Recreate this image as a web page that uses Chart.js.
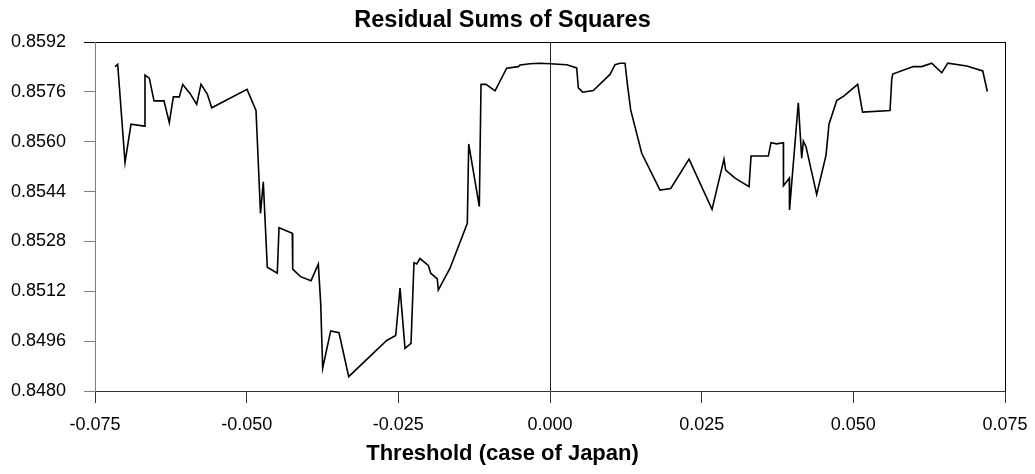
<!DOCTYPE html>
<html>
<head>
<meta charset="utf-8">
<script src="https://cdn.jsdelivr.net/npm/chart.js@4/dist/chart.umd.min.js"></script>
<style>
  html, body { margin: 0; padding: 0; background: #fff; }
</style>
</head>
<body>
<canvas id="rss" width="1035" height="474"></canvas>
<script>
// threshold values (x) and residual sums of squares (y)
var thresholds = [
  -0.0717, -0.07126, -0.07005, -0.06907, -0.06687, -0.06676, -0.06605, -0.06527, -0.06363, -0.06275,
  -0.06209, -0.0611, -0.06054, -0.05934, -0.05824, -0.05753, -0.05649, -0.05576, -0.04994, -0.04846,
  -0.04772, -0.04726, -0.0466, -0.04495, -0.04467, -0.04248, -0.04241, -0.04113, -0.03939, -0.03819,
  -0.0378, -0.03747, -0.03615, -0.03478, -0.03318, -0.02692, -0.02543, -0.02472, -0.0239, -0.02291,
  -0.02242, -0.02197, -0.02143, -0.02006, -0.01966, -0.01858, -0.01841, -0.01648, -0.01363, -0.0134,
  -0.01165, -0.01137, -0.01055, -0.00906, -0.00714, -0.00522, -0.00494, -0.0033, -0.00165, 0.0,
  0.00276, 0.0044, 0.00467, 0.00539, 0.00714, 0.00989, 0.01072, 0.01154, 0.01237, 0.01274,
  0.0133, 0.01512, 0.01813, 0.0199, 0.02292, 0.02671, 0.02868, 0.02896, 0.0305, 0.03281,
  0.03314, 0.03599, 0.03643, 0.03737, 0.03846, 0.03849, 0.03945, 0.03948, 0.04093, 0.04149,
  0.04176, 0.0422, 0.04396, 0.0455, 0.04599, 0.04726, 0.04847, 0.05072, 0.05152, 0.05605,
  0.05633, 0.05649, 0.05989, 0.06127, 0.06292, 0.06457, 0.06556, 0.06869, 0.07133, 0.07209
];
var rss = [
  0.85841, 0.85848, 0.85533, 0.85656, 0.8565, 0.85814, 0.85804, 0.85731, 0.85731, 0.85661,
  0.85744, 0.85744, 0.85784, 0.85755, 0.8572, 0.85784, 0.85753, 0.85709, 0.85768, 0.857,
  0.8537, 0.85471, 0.85197, 0.85178, 0.85324, 0.85306, 0.85191, 0.85167, 0.85154, 0.85207,
  0.85082, 0.84873, 0.84993, 0.84987, 0.84846, 0.84962, 0.84978, 0.8513, 0.84937, 0.84953,
  0.85212, 0.85208, 0.85225, 0.85203, 0.85178, 0.8516, 0.85124, 0.85194, 0.85338, 0.85593,
  0.85392, 0.85784, 0.85784, 0.85763, 0.85836, 0.85841, 0.85846, 0.8585, 0.85852, 0.8585,
  0.85847, 0.85837, 0.85773, 0.85759, 0.85764, 0.85816, 0.85847, 0.85852, 0.85852, 0.85787,
  0.85702, 0.85563, 0.85445, 0.8545, 0.85544, 0.85383, 0.85544, 0.85509, 0.85483, 0.85456,
  0.85554, 0.85554, 0.85597, 0.85593, 0.85597, 0.85459, 0.85483, 0.85381, 0.85725, 0.85547,
  0.85602, 0.85584, 0.85431, 0.85557, 0.85656, 0.85732, 0.85747, 0.85784, 0.85695, 0.857,
  0.858, 0.85817, 0.85841, 0.85841, 0.85852, 0.85821, 0.85852, 0.85843, 0.85827, 0.85761
];

var xMin = -0.075, xMax = 0.075, xStep = 0.025;
var yMin = 0.8480, yMax = 0.8592, yStep = 0.0016;

var points = thresholds.map(function (t, i) { return { x: t, y: rss[i] }; });

var font = "'Liberation Sans', Arial, sans-serif";

function near(a, b) { return Math.abs(a - b) < 1e-9; }

new Chart(document.getElementById('rss').getContext('2d'), {
  type: 'scatter',
  data: {
    datasets: [{
      data: points,
      showLine: true,
      borderColor: '#000',
      borderWidth: 1.6,
      pointRadius: 0,
      tension: 0,
      fill: false
    }]
  },
  options: {
    responsive: false,
    animation: false,
    devicePixelRatio: 1,
    layout: { padding: { left: 0, right: 30, top: 0, bottom: 0 } },
    plugins: {
      legend: { display: false },
      tooltip: { enabled: false },
      title: {
        display: true,
        text: 'Residual Sums of Squares',
        color: '#000',
        font: { family: font, size: 23.5, weight: 'bold' },
        padding: { top: 6, bottom: 7.8 }
      },
      subtitle: {
        display: true,
        position: 'bottom',
        text: 'Threshold (case of Japan)',
        color: '#000',
        font: { family: font, size: 22, weight: 'bold' },
        padding: { top: 5.2, bottom: 6.8 }
      }
    },
    scales: {
      x: {
        type: 'linear',
        min: xMin,
        max: xMax,
        afterFit: function (s) { s.height = 44.6; s.paddingLeft = 0; s.paddingRight = 0; },
        border: { display: true, color: '#333', width: 1 },
        grid: {
          drawOnChartArea: true,
          drawTicks: true,
          tickLength: 12,
          lineWidth: 1,
          color: function (c) {
            if (!c.tick) return 'rgba(0,0,0,0)';
            if (near(c.tick.value, 0)) return '#222';
            if (near(c.tick.value, xMax)) return '#000';
            return 'rgba(0,0,0,0)';
          },
          tickColor: '#333'
        },
        ticks: {
          stepSize: xStep,
          padding: 11,
          color: '#000',
          font: { family: font, size: 18 },
          maxRotation: 0,
          callback: function (v) { return (near(v, 0) ? 0 : v).toFixed(3); }
        }
      },
      y: {
        type: 'linear',
        min: yMin,
        max: yMax,
        afterFit: function (s) { s.width = 95; },
        border: { display: true, color: '#808080', width: 1 },
        grid: {
          drawOnChartArea: true,
          drawTicks: true,
          tickLength: 11,
          lineWidth: 1,
          color: function (c) {
            if (c.tick && near(c.tick.value, yMax)) return '#000';
            return 'rgba(0,0,0,0)';
          },
          tickColor: function (c) {
            if (c.tick && near(c.tick.value, yMax)) return '#000';
            return '#808080';
          }
        },
        ticks: {
          stepSize: yStep,
          padding: 18,
          color: '#000',
          font: { family: font, size: 18 },
          callback: function (v) { return v.toFixed(4); }
        }
      }
    }
  }
});
</script>
</body>
</html>
